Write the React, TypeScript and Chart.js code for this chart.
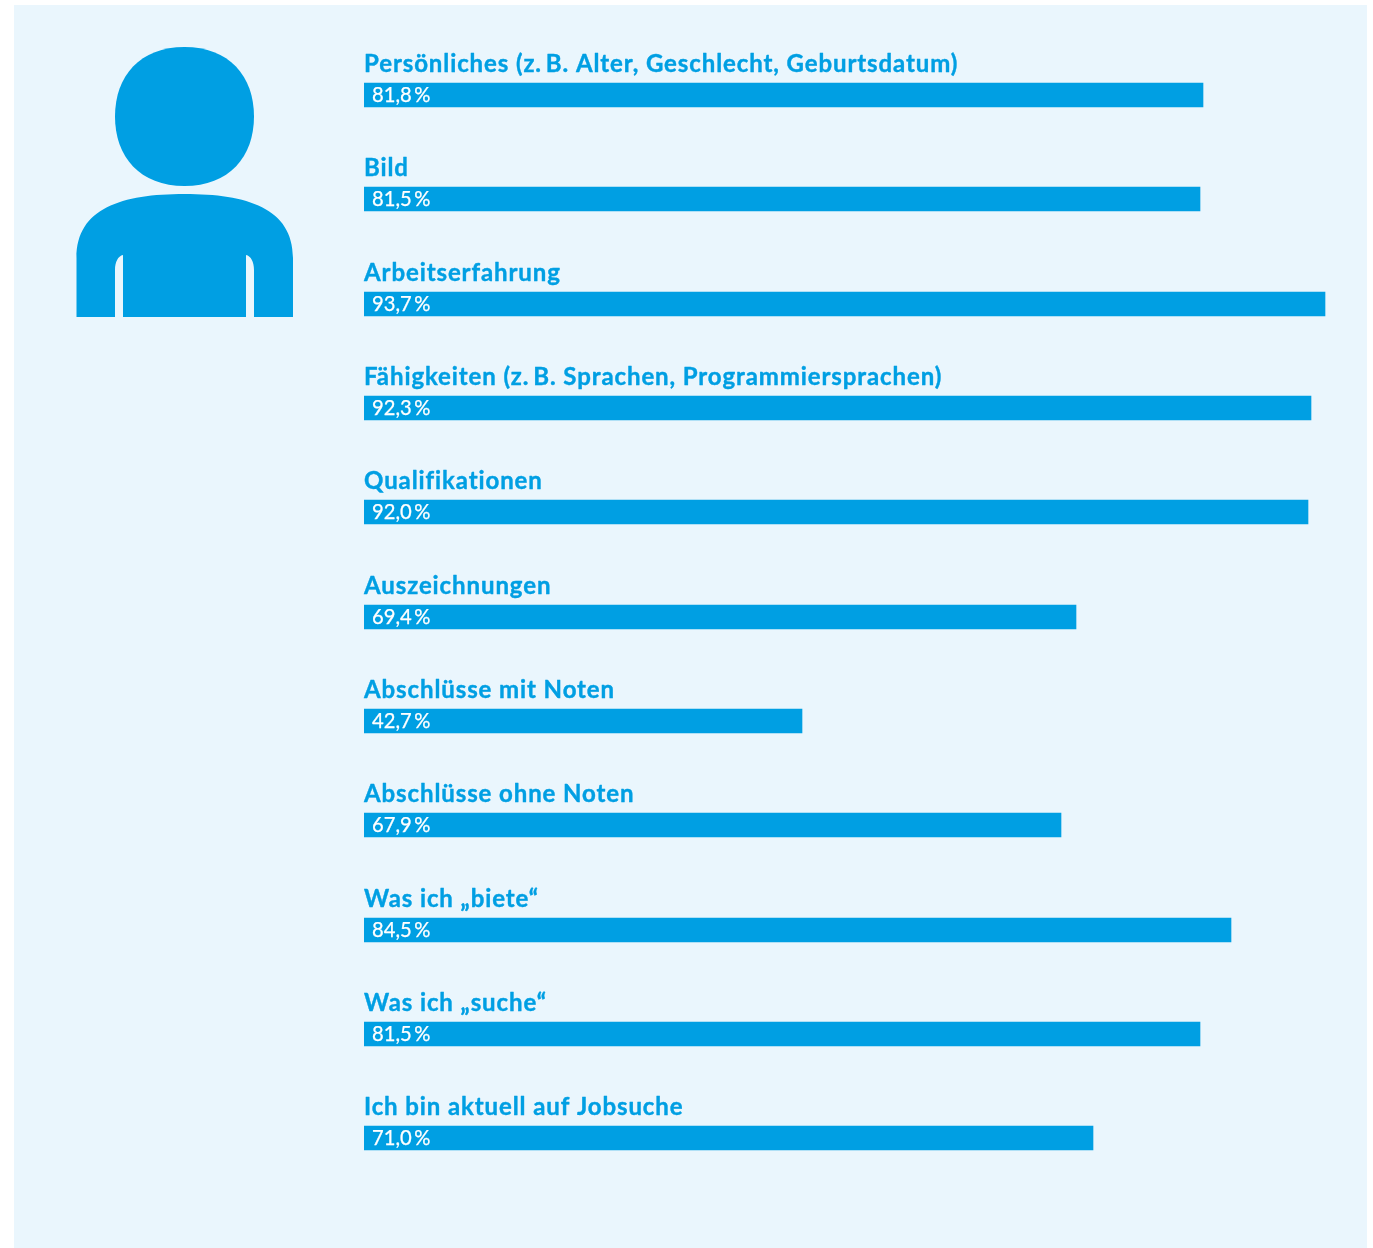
import React, { useEffect, useRef } from "react";
import { Chart, registerables } from "chart.js";

Chart.register(...registerables);

const categories = [
  "Persönliches (z.\u2009B. Alter, Geschlecht, Geburtsdatum)",
  "Bild",
  "Arbeitserfahrung",
  "Fähigkeiten (z.\u2009B. Sprachen, Programmiersprachen)",
  "Qualifikationen",
  "Auszeichnungen",
  "Abschlüsse mit Noten",
  "Abschlüsse ohne Noten",
  "Was ich „biete“",
  "Was ich „suche“",
  "Ich bin aktuell auf Jobsuche",
];
const shares = [81.8, 81.5, 93.7, 92.3, 92.0, 69.4, 42.7, 67.9, 84.5, 81.5, 71.0];

const BLUE = "#009FE3";
const PANEL = "#EAF6FD";
const WIDTH = 1373;
const HEIGHT = 1248;

const formatShare = (v: number) => v.toFixed(1).replace(".", ",") + "\u2009%";

// Pale panel behind the whole graphic
const panelPlugin = {
  id: "panel",
  beforeDraw(chart: any) {
    const { ctx } = chart;
    ctx.save();
    ctx.fillStyle = PANEL;
    ctx.fillRect(14, 5, 1353, 1243);
    ctx.restore();
  },
};

// Keeps bar edges on whole pixels so they stay crisp
const snapBarsPlugin = {
  id: "snapBars",
  beforeDatasetsDraw(chart: any) {
    chart.getDatasetMeta(0).data.forEach((bar: any) => {
      bar.x = Math.ceil(bar.x);
      bar.y = Math.round(bar.y + 0.15);
    });
  },
};

// Person pictogram in the left column
const personPlugin = {
  id: "person",
  afterDraw(chart: any) {
    const { ctx } = chart;
    ctx.save();
    ctx.fillStyle = BLUE;
    ctx.beginPath();
    ctx.moveTo(184.5, 47);
    ctx.bezierCurveTo(229, 47, 254, 76, 254, 116.5);
    ctx.bezierCurveTo(254, 157, 229, 186, 184.5, 186);
    ctx.bezierCurveTo(140, 186, 115, 157, 115, 116.5);
    ctx.bezierCurveTo(115, 76, 140, 47, 184.5, 47);
    ctx.closePath();
    ctx.fill();
    ctx.beginPath();
    ctx.moveTo(76.5, 317);
    ctx.lineTo(76.5, 258);
    ctx.bezierCurveTo(76.5, 208, 122, 194, 184.5, 194);
    ctx.bezierCurveTo(247, 194, 293, 208, 293, 258);
    ctx.lineTo(293, 317);
    ctx.lineTo(254, 317);
    ctx.lineTo(254, 270);
    ctx.bezierCurveTo(254, 262, 251, 256, 246, 255);
    ctx.lineTo(246, 317);
    ctx.lineTo(123, 317);
    ctx.lineTo(123, 255);
    ctx.bezierCurveTo(118, 256, 115, 262, 115, 270);
    ctx.lineTo(115, 317);
    ctx.closePath();
    ctx.fill();
    ctx.restore();
  },
};

// Category caption above each bar and the value inside it
const barTextPlugin = {
  id: "barText",
  afterDatasetsDraw(chart: any) {
    const { ctx, scales } = chart;
    const bars = chart.getDatasetMeta(0).data;
    const left = scales.x.getPixelForValue(0);
    ctx.save();
    ctx.textBaseline = "alphabetic";
    ctx.textAlign = "left";
    ctx.lineJoin = "round";
    categories.forEach((label, i) => {
      const y = bars[i].y;
      ctx.fillStyle = BLUE;
      ctx.strokeStyle = BLUE;
      ctx.lineWidth = 0.4;
      ctx.font = "700 24px Lato";
      ctx.letterSpacing = "0.9px";
      ctx.fillText(label, left, y - 23.5);
      ctx.strokeText(label, left, y - 23.5);
      const value = formatShare(shares[i]);
      ctx.fillStyle = "#FFFFFF";
      ctx.strokeStyle = "#FFFFFF";
      ctx.lineWidth = 0.25;
      ctx.font = "400 20.2px Lato";
      ctx.letterSpacing = "0px";
      ctx.fillText(value, left + 8, y + 6.5);
      ctx.strokeText(value, left + 8, y + 6.5);
    });
    ctx.restore();
  },
};

export default function App() {
  const ref = useRef<HTMLCanvasElement>(null);

  useEffect(() => {
    const chart = new Chart(ref.current!, {
      type: "bar",
      data: {
        labels: categories,
        datasets: [
          {
            data: shares,
            backgroundColor: BLUE,
            barThickness: 24,
            borderWidth: 0,
          },
        ],
      },
      options: {
        indexAxis: "y",
        animation: false,
        responsive: false,
        layout: { padding: { left: 364, right: 34.7, top: 42.85, bottom: 57.85 } },
        plugins: { legend: { display: false }, tooltip: { enabled: false } },
        scales: {
          x: { display: false, min: 0, max: 95 },
          y: { display: false },
        },
      },
      plugins: [panelPlugin, snapBarsPlugin, personPlugin, barTextPlugin],
    });
    return () => chart.destroy();
  }, []);

  return (
    <canvas
      ref={ref}
      width={WIDTH}
      height={HEIGHT}
      style={{ position: "absolute", left: 0, top: 0, display: "block" }}
    />
  );
}
